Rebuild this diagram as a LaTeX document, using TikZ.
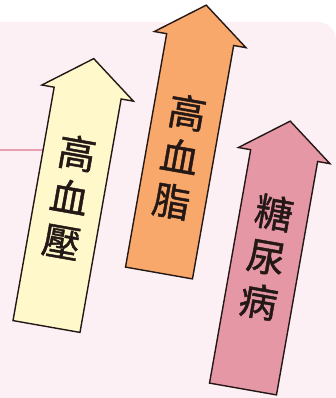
\documentclass[tikz,border=0pt]{standalone}
\usepackage{fontspec}
\newfontfamily\cjk{Noto Sans CJK TC}[FakeBold=1.2]
\definecolor{bgpink}{RGB}{252,240,245}
\definecolor{linepink}{RGB}{232,160,178}
\definecolor{yellowc}{RGB}{255,248,202}
\definecolor{orangec}{RGB}{249,168,108}
\definecolor{pinkc}{RGB}{229,151,166}
\definecolor{inkc}{RGB}{35,24,21}
\begin{document}
\begin{tikzpicture}[x=1pt,y=-1pt,
  outline/.style={draw=inkc,line width=1.4pt,line join=miter},
  vlabel/.style={font=\cjk\fontsize{38}{45}\selectfont, text=inkc, align=center, inner sep=0pt, transform shape},
  pics/uparrow/.style={code={\filldraw[outline,fill=#1] (-34,0) -- (-34,-237) -- (-46.5,-237) -- (0,-272) -- (46.5,-237) -- (34,-237) -- (34,0) -- cycle;}}]
\useasboundingbox (0,0) rectangle (336,398);
\fill[bgpink,rounded corners=18pt] (-30,22) rectangle (336,430);
\coordinate (lineL) at (0,150);
\coordinate (lineR) at (50,150);
\draw[linepink,line width=1.3pt] (lineL) -- (lineR);
\begin{scope}[shift={(46.5,326.5)},rotate=-10]
  \pic[transform shape] {uparrow=yellowc};
  \node[vlabel] (t1) at (0,-131.5) {高\\血\\壓};
\end{scope}
\begin{scope}[shift={(159,273)},rotate=-10]
  \pic[transform shape] {uparrow=orangec};
  \node[vlabel] (t2) at (0,-118) {高\\血\\脂};
\end{scope}
\begin{scope}[shift={(243,389)},rotate=-10]
  \pic[transform shape] {uparrow=pinkc};
  \node[vlabel] (t3) at (0,-134) {糖\\尿\\病};
\end{scope}
\end{tikzpicture}
\end{document}
